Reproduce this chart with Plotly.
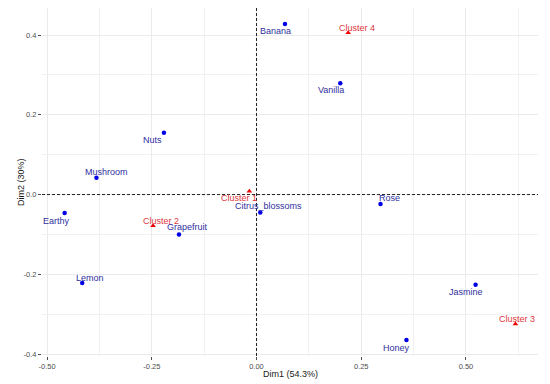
import plotly.graph_objects as go

# Data
var_names = ["Banana", "Vanilla", "Nuts", "Mushroom", "Earthy", "Grapefruit", "Lemon",
             "Citrus_blossoms", "Rose", "Jasmine", "Honey"]
var_dim1 = [0.068, 0.200, -0.221, -0.382, -0.458, -0.185, -0.416, 0.009, 0.296, 0.523, 0.358]
var_dim2 = [0.428, 0.279, 0.155, 0.042, -0.046, -0.100, -0.222, -0.045, -0.024, -0.226, -0.365]

clu_names = ["Cluster 1", "Cluster 2", "Cluster 3", "Cluster 4"]
clu_dim1 = [-0.017, -0.247, 0.618, 0.219]
clu_dim2 = [0.008, -0.078, -0.325, 0.406]

x_ticks = [-0.5, -0.25, 0.0, 0.25, 0.5]
x_ticklabels = ["-0.50", "-0.25", "0.00", "0.25", "0.50"]
y_ticks = [-0.4, -0.2, 0.0, 0.2, 0.4]
y_ticklabels = ["-0.4", "-0.2", "0.0", "0.2", "0.4"]

# label pixel offsets (style only)
label_shift = {
    "Nuts": (-11, -7), "Mushroom": (10, 6), "Banana": (-9, -7), "Vanilla": (-9, -7),
    "Earthy": (-8, -8), "Grapefruit": (9, 7), "Lemon": (8, 5), "Citrus_blossoms": (8, 6),
    "Rose": (9, 6), "Jasmine": (-10, -7), "Honey": (-10, -8),
    "Cluster 1": (-10, -7), "Cluster 2": (8, 5), "Cluster 3": (2, 5), "Cluster 4": (9, 5),
}

FONT = "Liberation Sans, Arial, sans-serif"
BLUE_PT = "#0000E6"
BLUE_TXT = "#2F2FA0"
RED_PT = "#F00000"
RED_TXT = "#E0363C"

fig = go.Figure()
fig.add_trace(go.Scatter(x=var_dim1, y=var_dim2, mode="markers",
                         marker=dict(color=BLUE_PT, size=4.5, symbol="circle"),
                         hoverinfo="text", text=var_names, showlegend=False))
fig.add_trace(go.Scatter(x=clu_dim1, y=clu_dim2, mode="markers",
                         marker=dict(color=RED_PT, size=5, symbol="triangle-up"),
                         hoverinfo="text", text=clu_names, showlegend=False))

annotations = []
for n, x, y in zip(var_names, var_dim1, var_dim2):
    dx, dy = label_shift[n]
    annotations.append(dict(x=x, y=y, text=n, showarrow=False, xshift=dx, yshift=dy,
                            font=dict(family=FONT, size=9, color=BLUE_TXT)))
for n, x, y in zip(clu_names, clu_dim1, clu_dim2):
    dx, dy = label_shift[n]
    annotations.append(dict(x=x, y=y, text=n, showarrow=False, xshift=dx, yshift=dy,
                            font=dict(family=FONT, size=9, color=RED_TXT)))

annotations.append(dict(x=0.5, y=0, xref="paper", yref="paper", text="Dim1 (54.3%)",
                        showarrow=False, yanchor="top", yshift=-11,
                        font=dict(family=FONT, size=9, color="#1A1A1A")))
annotations.append(dict(x=0, y=0.5, xref="paper", yref="paper", text="Dim2 (30%)",
                        showarrow=False, textangle=-90, xanchor="center", xshift=-21,
                        font=dict(family=FONT, size=9, color="#1A1A1A")))

shapes = [
    dict(type="line", xref="x", yref="paper", x0=0, x1=0, y0=0, y1=1,
         line=dict(color="#222222", width=1, dash="3px,2px")),
    dict(type="line", xref="paper", yref="y", x0=0, x1=1, y0=0, y1=0,
         line=dict(color="#222222", width=1, dash="3px,2px")),
]

axis_common = dict(
    showline=False, zeroline=False, showgrid=True, gridcolor="#EBEBEB", gridwidth=1,
    ticks="outside", ticklen=3, tickwidth=1, tickcolor="#4D4D4D",
    tickfont=dict(family=FONT, size=7.5, color="#4D4D4D"),
)

fig.update_layout(
    width=550, height=384,
    margin=dict(l=42, r=12, t=8, b=28),
    paper_bgcolor="white", plot_bgcolor="white",
    xaxis=dict(range=[-0.512, 0.672], tickvals=x_ticks, ticktext=x_ticklabels,
               minor=dict(tickvals=[-0.375, -0.125, 0.125, 0.375, 0.625], showgrid=True,
                          gridcolor="#F1F1F1", gridwidth=1, ticks=""),
               **axis_common),
    yaxis=dict(range=[-0.405, 0.468], tickvals=y_ticks, ticktext=y_ticklabels,
               minor=dict(tickvals=[-0.3, -0.1, 0.1, 0.3], showgrid=True,
                          gridcolor="#F1F1F1", gridwidth=1, ticks=""),
               **axis_common),
    annotations=annotations,
    shapes=shapes,
    font=dict(family=FONT),
)

fig.write_html("out.html",
               config={"displayModeBar": False},
               post_script="document.body.style.margin='0';document.body.style.padding='0';")
